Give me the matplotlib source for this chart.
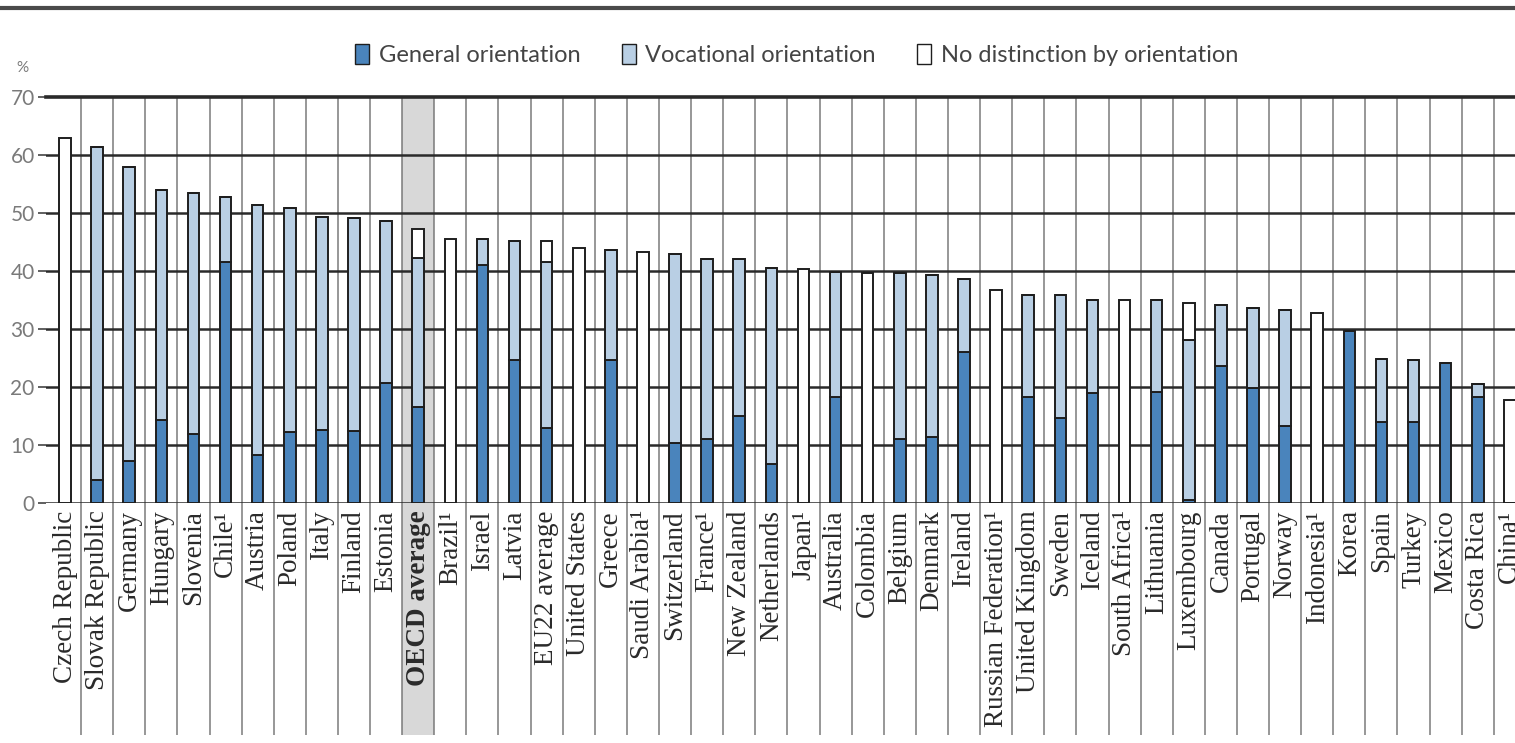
import matplotlib
matplotlib.use('Agg')
import matplotlib.pyplot as plt
import numpy as np
from matplotlib.patches import Patch
from matplotlib.lines import Line2D

# categories, in chart order
countries = ['Czech Republic', 'Slovak Republic', 'Germany', 'Hungary', 'Slovenia', 'Chile¹',
             'Austria', 'Poland', 'Italy', 'Finland', 'Estonia', 'OECD average', 'Brazil¹',
             'Israel', 'Latvia', 'EU22 average', 'United States', 'Greece', 'Saudi Arabia¹',
             'Switzerland', 'France¹', 'New Zealand', 'Netherlands', 'Japan¹', 'Australia',
             'Colombia', 'Belgium', 'Denmark', 'Ireland', 'Russian Federation¹',
             'United Kingdom', 'Sweden', 'Iceland', 'South Africa¹', 'Lithuania',
             'Luxembourg', 'Canada', 'Portugal', 'Norway', 'Indonesia¹', 'Korea', 'Spain',
             'Turkey', 'Mexico', 'Costa Rica', 'China¹']

# % values
general = [0, 4.0, 7.2, 14.3, 11.9, 41.6, 8.3, 12.3, 12.6, 12.4, 20.7, 16.6, 0,
           41.0, 24.7, 13.0, 0, 24.7, 0, 10.4, 11.0, 15.0, 6.8, 0, 18.3, 0, 11.1,
           11.4, 26.1, 0, 18.3, 14.6, 18.9, 0, 19.2, 0.5, 23.6, 19.8, 13.2, 0, 29.7,
           13.9, 13.9, 24.1, 18.3, 0]
vocational = [0, 57.4, 50.7, 39.7, 41.6, 11.2, 43.1, 38.6, 36.8, 36.8, 27.9, 25.6, 0,
              4.5, 20.4, 28.6, 0, 18.9, 0, 32.5, 31.1, 27.1, 33.8, 0, 21.6, 0, 28.5,
              27.9, 12.6, 0, 17.6, 21.3, 16.1, 0, 15.8, 27.6, 10.5, 13.8, 20.1, 0, 0,
              11.0, 10.8, 0, 2.3, 0]
nodist = [62.9, 0, 0, 0, 0, 0, 0, 0, 0, 0, 0, 5.0, 45.6,
          0, 0, 3.5, 44.0, 0, 43.2, 0, 0, 0, 0, 40.3, 0, 39.6, 0,
          0, 0, 36.7, 0, 0, 0, 35.0, 0, 6.4, 0, 0, 0, 32.7, 0,
          0, 0, 0, 0, 17.8]

c_gen = '#4a84bc'
c_voc = '#b9cfe4'
c_nod = '#ffffff'
edge = '#1e1e1e'

fig = plt.figure(figsize=(15.15, 7.43), dpi=100)
ax = fig.add_axes([0.0302, 0.323, 0.977, 0.5464])

x = np.arange(len(countries))
g = np.array(general)
v = np.array(vocational)
n = np.array(nodist)

w = 0.36
ax.bar(x, g, w, color=c_gen, edgecolor=edge, linewidth=1.4, zorder=3)
ax.bar(x, v, w, bottom=g, color=c_voc, edgecolor=edge, linewidth=1.4, zorder=3)
ax.bar(x, n, w, bottom=g + v, color=c_nod, edgecolor=edge, linewidth=1.4, zorder=3)

ax.set_xlim(-0.6, 45.5)
ax.set_ylim(0, 70)

# horizontal grid lines
for yv in range(0, 70, 10):
    ax.axhline(yv, color='#2a2a2a', lw=1.8, zorder=2)
ax.axhline(70, color='#2a2a2a', lw=2.6, zorder=2, clip_on=False)

# vertical separators, running down through the label area
bottom_ax = -0.571
ax.vlines(x[:-1] + 0.5, bottom_ax, 1, transform=ax.get_xaxis_transform(),
          colors='#7a7a7a', lw=1.1, zorder=1, clip_on=False)

# OECD average shading
i_oecd = countries.index('OECD average')
ax.add_patch(plt.Rectangle((i_oecd - 0.5, bottom_ax), 1, 1 - bottom_ax,
                           transform=ax.get_xaxis_transform(), facecolor='#d8d8d8',
                           edgecolor='none', zorder=0, clip_on=False))

for s in ax.spines.values():
    s.set_visible(False)

ax.set_yticks(range(0, 80, 10))
ax.tick_params(axis='y', length=6, width=1.2, color='#444444', pad=2,
               labelsize=15, labelcolor='#7a7a7a')
for t in ax.get_yticklabels():
    t.set_family('Lato')

ax.set_xticks(x)
ax.set_xticklabels([])
ax.tick_params(axis='x', length=0)
for i, name in enumerate(countries):
    ax.text(i, -0.018, name, rotation=90, ha='center', va='top',
            transform=ax.get_xaxis_transform(), family='Liberation Serif',
            fontsize=19.5, color='#2a2a2a',
            fontweight='bold' if name == 'OECD average' else 'normal')

fig.text(22 / 1515, 1 - 68 / 743, '%', fontsize=11, color='#7a7a7a',
         family='Lato', ha='center', va='center')

# top rule
fig.add_artist(Line2D([0, 1], [1 - 8 / 743, 1 - 8 / 743], color='#4a4a4a', lw=3))

handles = [Patch(facecolor=c_gen, edgecolor=edge, label='General orientation'),
           Patch(facecolor=c_voc, edgecolor=edge, label='Vocational orientation'),
           Patch(facecolor=c_nod, edgecolor=edge, label='No distinction by orientation')]
fig.legend(handles=handles, loc='center', bbox_to_anchor=(0.5257, 1 - 55 / 743), ncol=3,
           frameon=False, handlelength=0.6, handleheight=0.9, handletextpad=0.4,
           columnspacing=1.75, prop={'family': 'Lato', 'size': 17}, labelcolor='#444444')

fig.savefig('out.png', dpi=100)
